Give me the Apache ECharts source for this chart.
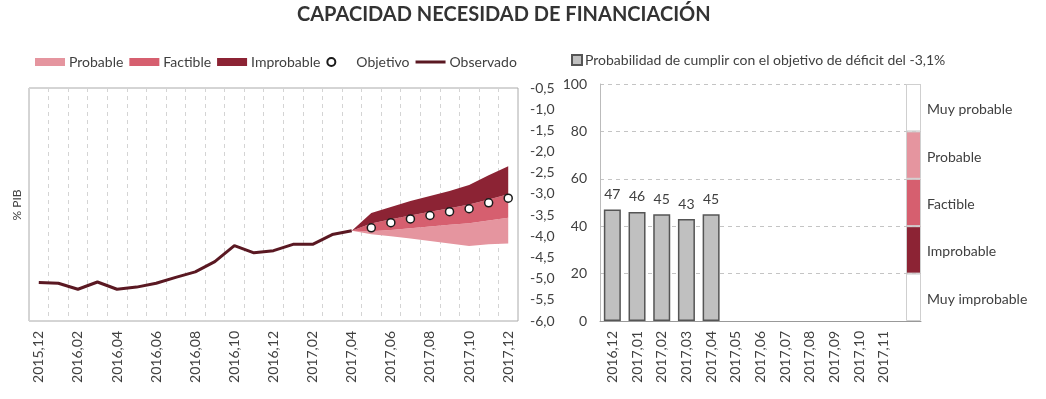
<!DOCTYPE html>
<html><head><meta charset="utf-8">
<script src="https://cdn.jsdelivr.net/npm/echarts@6/dist/echarts.min.js"></script>
<style>html,body{margin:0;padding:0;background:#fff}#c{width:1046px;height:399px}</style>
</head><body><div id="c"></div><script>
// ---------- data ----------
const months = ['2015,12','2016,01','2016,02','2016,03','2016,04','2016,05','2016,06','2016,07','2016,08','2016,09','2016,10','2016,11','2016,12',
  '2017,01','2017,02','2017,03','2017,04','2017,05','2017,06','2017,07','2017,08','2017,09','2017,10','2017,11','2017,12'];
const observed = [-5.09,-5.11,-5.25,-5.08,-5.25,-5.20,-5.11,-4.97,-4.84,-4.60,-4.22,-4.39,-4.34,-4.19,-4.19,-3.96,-3.87];
// fan values from 2017,04 to 2017,12
const fanStartMonth = '2017,04';
const probBottom = [-3.87,-3.95,-4.00,-4.05,-4.11,-4.17,-4.23,-4.19,-4.17];
const probTop    = [-3.87,-3.88,-3.85,-3.81,-3.77,-3.73,-3.69,-3.63,-3.56];
const factTop    = [-3.87,-3.70,-3.60,-3.51,-3.42,-3.34,-3.25,-3.13,-3.01];
const improbTop  = [-3.87,-3.45,-3.31,-3.17,-3.05,-2.93,-2.79,-2.56,-2.35];
// objective from 2017,05 to 2017,12
const objStartMonth = '2017,05';
const objective  = [-3.80,-3.68,-3.59,-3.51,-3.42,-3.35,-3.21,-3.10];
const yTicks = {min:-6, max:-0.5, step:0.5};

const probCats = ['2016,12','2017,01','2017,02','2017,03','2017,04','2017,05','2017,06','2017,07','2017,08','2017,09','2017,10','2017,11',''];
const probValues = [47,46,45,43,45];
const scaleNames = ['Muy improbable','Improbable','Factible','Probable','Muy probable'];
const scaleSizes = [20,20,20,20,20];

// ---------- styles ----------
const C_PROB = '#e5959f', C_FACT = '#d65f6f', C_IMPR = '#8c2334', C_OBS = '#5a1822';
const TXT = '#404040';
const FONT = 'Lato';
const FS = 14;

function pad(arr, startName){
  const s = months.indexOf(startName);
  const out = months.map(()=>'-');
  arr.forEach((v,i)=>{ out[s+i] = v; });
  return out;
}
const diff = (a,b)=>a.map((v,i)=>+(v-b[i]).toFixed(4));

const baseData = pad(probBottom, fanStartMonth);
const probBand = pad(diff(probTop, probBottom), fanStartMonth);
const factBand = pad(diff(factTop, probTop), fanStartMonth);
const imprBand = pad(diff(improbTop, factTop), fanStartMonth);
const objData = pad(objective, objStartMonth);

const scaleColors = ['#ffffff', C_IMPR, C_FACT, C_PROB, '#ffffff'];

const chart = echarts.init(document.getElementById('c'));
const bandCommon = {type:'line', xAxisIndex:0, yAxisIndex:0, stack:'fan', stackStrategy:'all',
  symbol:'none', showSymbol:false, lineStyle:{width:0}, silent:true, z:2};

const option = {
  animation:false,
  textStyle:{fontFamily:FONT},
  title:{text:'CAPACIDAD NECESIDAD DE FINANCIACIÓN', left:297, top:5, padding:0,
    textStyle:{fontFamily:FONT, fontSize:20, fontWeight:'bold', color:'#333'}},
  legend:[{
    left:35, top:55, itemWidth:30, itemHeight:8, itemGap:6, padding:0,
    textStyle:{fontFamily:FONT, fontSize:FS, color:TXT, padding:[0,0,0,-1]},
    data:[{name:'Probable', icon:'rect'},{name:'Factible', icon:'rect'},{name:'Improbable', icon:'rect'},
      {name:'Objetivo', icon:'circle', textStyle:{padding:[0,0,0,5]}},
      {name:'Observado', icon:'path://M0,0H30V3H0Z', itemStyle:{color:C_OBS, borderWidth:0}}]
  },{
    left:571, top:53, itemWidth:10, itemHeight:10, padding:0,
    textStyle:{fontFamily:FONT, fontSize:FS, color:TXT, padding:[0,0,0,-2]},
    data:[{name:'Probabilidad de cumplir con el objetivo de déficit del -3,1%', icon:'rect'}]
  }],
  graphic:[{type:'text', x:17, y:205, rotation:Math.PI/2,
    style:{text:'% PIB', fontFamily:FONT, fontSize:12, fill:TXT, align:'center', verticalAlign:'middle'}}],
  grid:[
    {left:29, top:88, width:489, height:233, show:true, borderColor:'#aaaaaa', borderWidth:1, backgroundColor:'transparent'},
    {left:600, top:84, width:321, height:237},
    {left:906, top:84, width:15, height:237}
  ],
  xAxis:[
    {gridIndex:0, type:'category', data:months, boundaryGap:true,
      axisLine:{show:false}, axisTick:{show:false},
      axisLabel:{rotate:90, interval:1, fontSize:FS, color:TXT, margin:10, fontFamily:FONT},
      splitLine:{show:true, interval:0, lineStyle:{type:[4,4], color:'#d4d4d4', width:1}}},
    {gridIndex:1, type:'category', data:probCats, boundaryGap:true,
      axisLine:{show:true, lineStyle:{color:'#999', width:1}}, axisTick:{show:false},
      axisLabel:{rotate:90, interval:0, fontSize:FS, color:TXT, margin:10, fontFamily:FONT}},
    {gridIndex:2, type:'category', data:[''], show:false}
  ],
  yAxis:[
    {gridIndex:0, type:'value', position:'right', min:yTicks.min, max:yTicks.max, interval:yTicks.step,
      axisLine:{show:false}, axisTick:{show:false}, splitLine:{show:false},
      axisLabel:{fontSize:FS, color:TXT, margin:12, fontFamily:FONT,
        formatter:v=>v.toFixed(1).replace('.',',')}},
    {gridIndex:1, type:'value', min:0, max:100, interval:20,
      axisLine:{show:true, lineStyle:{color:'#bbb', width:1}}, axisTick:{show:false},
      splitLine:{show:true, lineStyle:{type:[4,4], color:'#c4c4c4', width:1}},
      axisLabel:{fontSize:FS, color:TXT, margin:13, fontFamily:FONT}},
    {gridIndex:2, type:'value', min:0, max:100, show:false}
  ],
  series:[
    Object.assign({}, bandCommon, {name:'base', data:baseData, lineStyle:{width:0, opacity:0}}),
    Object.assign({}, bandCommon, {name:'Probable', data:probBand, itemStyle:{color:C_PROB}, areaStyle:{color:C_PROB, opacity:1}}),
    Object.assign({}, bandCommon, {name:'Factible', data:factBand, itemStyle:{color:C_FACT}, areaStyle:{color:C_FACT, opacity:1}}),
    Object.assign({}, bandCommon, {name:'Improbable', data:imprBand, itemStyle:{color:C_IMPR}, areaStyle:{color:C_IMPR, opacity:1}}),
    {name:'Observado', type:'line', xAxisIndex:0, yAxisIndex:0, data:observed, symbol:'none', showSymbol:false,
      itemStyle:{color:C_OBS}, lineStyle:{color:C_OBS, width:3}, z:4},
    {name:'Objetivo', type:'scatter', xAxisIndex:0, yAxisIndex:0, data:objData, symbol:'circle', symbolSize:8,
      itemStyle:{color:'#ffffff', borderColor:'#1a1a1a', borderWidth:1.5, opacity:1}, z:5},
    {name:'Probabilidad de cumplir con el objetivo de déficit del -3,1%', type:'bar', xAxisIndex:1, yAxisIndex:1,
      data:probValues, barWidth:17,
      itemStyle:{color:'#c0c0c0', borderColor:'#555', borderWidth:1.5},
      label:{show:true, position:'top', distance:8, fontSize:FS, color:TXT, fontFamily:FONT}, z:3}
  ].concat(scaleNames.map((n,i)=>({
    name:'scale_'+n, type:'bar', xAxisIndex:2, yAxisIndex:2, stack:'scale', barWidth:15,
    data:[scaleSizes[i]],
    itemStyle:{color:scaleColors[i], borderColor:'#cfcfcf', borderWidth:1},
    label:{show:true, position:'right', distance:6, offset:[0,2], formatter:n, fontSize:FS, color:TXT, fontFamily:FONT},
    z:3
  })))
};
chart.setOption(option);
</script></body></html>
